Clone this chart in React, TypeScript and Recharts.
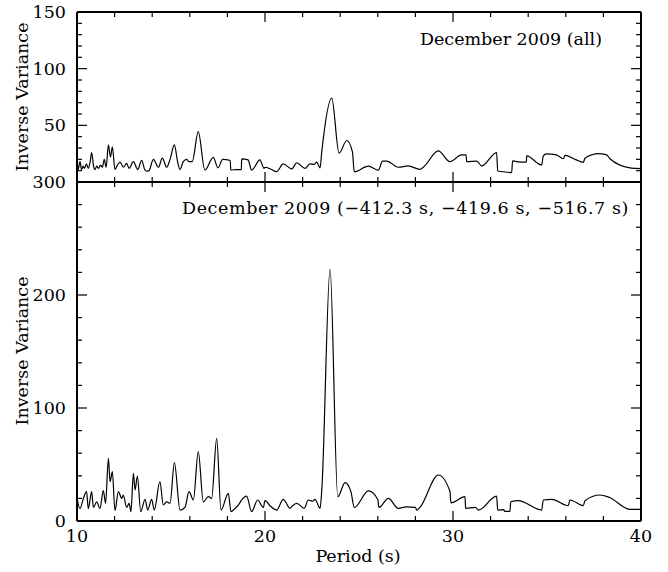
import React from 'react';
import { LineChart, Line, XAxis, YAxis } from 'recharts';

// ---- data ----
const topPeriod = [
  10.0, 10.06, 10.16, 10.24, 10.33, 10.4, 10.5, 10.6, 10.7, 10.78, 10.88, 10.96, 11.05, 11.15, 11.25, 11.35,
  11.45, 11.55, 11.67, 11.78, 11.88, 12.02, 12.15, 12.29, 12.47, 12.64, 12.77, 13.0, 13.23, 13.44, 13.6, 13.7,
  13.83, 14.06, 14.33, 14.54, 14.77, 14.95, 15.18, 15.35, 15.48, 15.65, 15.83, 15.95, 16.13, 16.45, 16.8, 17.25,
  17.5, 17.75, 18.15, 18.18, 18.5, 18.74, 18.76, 19.1, 19.29, 19.73, 19.95, 20.0, 20.3, 20.62, 20.97, 21.42,
  21.69, 22.13, 22.39, 22.6, 22.75, 22.93, 23.02, 23.55, 23.94, 24.35, 24.65, 24.75, 25.5, 26.0, 26.03, 26.25,
  26.47, 27.09, 27.62, 28.24, 28.42, 29.22, 29.84, 30.46, 30.69, 30.73, 31.26, 31.53, 32.32, 32.38, 32.94, 33.12,
  33.17, 33.65, 33.9, 33.92, 34.72, 34.8, 34.98, 35.5, 35.87, 35.96, 36.5, 36.93, 37.02, 37.4, 37.73, 38.17,
  38.35, 39.41, 39.7, 40.0,
];
const topValue = [
  21, 11, 18, 11, 14, 12, 16, 12, 18, 26, 14, 11, 14, 12, 15, 13,
  20, 13, 32.7, 22, 31, 11, 15, 17.5, 13, 16.5, 12, 18, 11, 19, 11, 9.5,
  10, 20, 13, 21, 13, 20, 32.7, 18, 11, 18, 20, 18, 18, 44.5, 10.6, 21.8,
  12.5, 20, 19, 10.6, 11, 11, 20.4, 19.5, 10.5, 19.5, 12, 13, 11.5, 9.1, 16, 11.5,
  17, 12, 16, 15.5, 17.5, 12.5, 26.8, 74, 25.4, 36.6, 26.5, 9.1, 14, 10.5, 10.5, 18.5,
  18.5, 13, 14.2, 11.2, 13, 27.4, 18, 23.9, 23.9, 18, 18.5, 14.2, 26, 9.7, 8.6, 8.3,
  18.6, 17.5, 17.5, 23, 15, 23, 24.9, 24, 20.5, 23.5, 20, 17.4, 21, 24, 25, 24,
  20.5, 12.4, 12, 11.8,
];

const botPeriod = [
  10.0, 10.16, 10.34, 10.51, 10.6, 10.78, 10.87, 11.05, 11.22, 11.4, 11.52, 11.67, 11.76, 11.88, 12.02, 12.2,
  12.38, 12.46, 12.64, 12.77, 12.87, 13.0, 13.09, 13.21, 13.39, 13.62, 13.76, 13.97, 14.11, 14.41, 14.59, 14.77,
  14.95, 15.18, 15.48, 15.74, 15.96, 16.19, 16.45, 16.72, 16.99, 17.16, 17.43, 17.66, 18.05, 18.19, 18.4, 18.58,
  18.76, 19.02, 19.29, 19.61, 19.91, 20.0, 20.3, 20.62, 20.97, 21.33, 21.45, 21.69, 22.09, 22.3, 22.55, 22.66,
  22.93, 23.02, 23.46, 23.87, 24.26, 24.57, 24.75, 25.5, 26.0, 26.06, 26.56, 27.09, 27.5, 28.0, 28.07, 28.24,
  29.22, 29.84, 29.89, 30.64, 30.67, 31.2, 31.35, 32.32, 32.38, 32.7, 32.75, 33.03, 33.07, 33.47, 34.72, 34.8,
  35.25, 36.13, 36.22, 36.93, 37.02, 37.82, 38.3, 39.41, 40.0,
];
const botValue = [
  20, 11, 20, 26, 11, 26, 12, 17, 11, 26.8, 15.6, 55.5, 34.8, 43.7, 9.1, 26,
  20, 23, 12, 15.6, 8.3, 42.2, 27.4, 39.8, 8.3, 19.2, 9.7, 19.2, 9.7, 34.8, 14.2, 17,
  15.6, 51.6, 9.7, 12, 26, 18.6, 61.4, 17, 21.5, 20, 73.2, 9.7, 24.5, 8.3, 11, 14,
  18.6, 22, 8.3, 18.6, 12, 18, 13, 9.7, 19.2, 11.2, 13.3, 15.6, 11.2, 18.6, 17.5, 19.2,
  11.2, 27.4, 223, 21.5, 33.9, 26, 12, 26.6, 19, 12, 20.1, 11.2, 12.5, 12, 9.7, 12,
  40.7, 26, 16, 21.5, 11.2, 12, 9.7, 22.1, 9.7, 10, 8.5, 8.5, 17, 18, 9.7, 18.6,
  19.2, 13.6, 18.6, 13.6, 18, 23, 21, 10.3, 10.3,
];

const xTicks = [10, 12, 14, 16, 18, 20, 22, 24, 26, 28, 30, 32, 34, 36, 38, 40];
const xMajor = [10, 20, 30, 40];
const topYTicks = [0, 10, 20, 30, 40, 50, 60, 70, 80, 90, 100, 110, 120, 130, 140, 150];
const topYMajor = [0, 50, 100, 150];
const topYLabels = [50, 100, 150];
const botYTicks = [0, 20, 40, 60, 80, 100, 120, 140, 160, 180, 200, 220, 240, 260, 280, 300];
const botYMajor = [0, 100, 200, 300];
const botYLabels = [0, 100, 200, 300];

const topTitle = 'December 2009 (all)';
const botTitle = 'December 2009 (\u2212412.3 s, \u2212419.6 s, \u2212516.7 s)';
const yTitle = 'Inverse Variance';
const xTitle = 'Period (s)';

const topData = topPeriod.map((p, i) => ({ p, v: topValue[i] }));
const botData = botPeriod.map((p, i) => ({ p, v: botValue[i] }));

const FONT = "'DejaVu Serif', serif";
const FS = 17.5;

type Side = 'bottom' | 'top' | 'left' | 'right';

function makeTick(side: Side, majors: number[], labels: number[]) {
  return (props: any) => {
    const { x, y, payload } = props;
    const v = payload.value;
    const len = majors.includes(v) ? 10 : 5;
    let x2 = x;
    let y2 = y;
    if (side === 'bottom') y2 = y - len;
    if (side === 'top') y2 = y + len;
    if (side === 'left') x2 = x + len;
    if (side === 'right') x2 = x - len;
    let label: any = null;
    if (labels.includes(v)) {
      if (side === 'bottom') {
        label = (
          <text x={x} y={y + 21} textAnchor="middle" fontFamily={FONT} fontSize={FS} fill="#000">
            {v}
          </text>
        );
      } else if (side === 'left') {
        label = (
          <text x={x - 11} y={y + 6} textAnchor="end" fontFamily={FONT} fontSize={FS} fill="#000">
            {v}
          </text>
        );
      }
    }
    return (
      <g>
        <line x1={x} y1={y} x2={x2} y2={y2} stroke="#000" strokeWidth={1.2} />
        {label}
      </g>
    );
  };
}

const axisLine = { stroke: '#000', strokeWidth: 2 };

function Panel(props: {
  data: any[];
  height: number;
  margin: any;
  yDomain: [number, number];
  yTicks: number[];
  yMajor: number[];
  yLabels: number[];
  xLabels: number[];
}) {
  const { data, height, margin, yDomain, yTicks, yMajor, yLabels, xLabels } = props;
  return (
    <LineChart width={668} height={height} data={data} margin={margin} style={{ position: 'absolute', left: 0, top: 0 }}>
      <XAxis
        xAxisId="b"
        dataKey="p"
        type="number"
        domain={[10, 40]}
        allowDataOverflow
        ticks={xTicks}
        interval={0}
        height={1}
        tickSize={0}
        tickMargin={0}
        tickLine={false}
        axisLine={axisLine}
        tick={makeTick('bottom', xMajor, xLabels)}
      />
      <XAxis
        xAxisId="t"
        orientation="top"
        dataKey="p"
        type="number"
        domain={[10, 40]}
        allowDataOverflow
        ticks={xTicks}
        interval={0}
        height={1}
        tickSize={0}
        tickMargin={0}
        tickLine={false}
        axisLine={axisLine}
        tick={makeTick('top', xMajor, [])}
      />
      <YAxis
        yAxisId="l"
        type="number"
        domain={yDomain}
        allowDataOverflow
        ticks={yTicks}
        interval={0}
        width={1}
        tickSize={0}
        tickMargin={0}
        tickLine={false}
        axisLine={axisLine}
        tick={makeTick('left', yMajor, yLabels)}
      />
      <YAxis
        yAxisId="r"
        orientation="right"
        type="number"
        domain={yDomain}
        allowDataOverflow
        ticks={yTicks}
        interval={0}
        width={1}
        tickSize={0}
        tickMargin={0}
        tickLine={false}
        axisLine={axisLine}
        tick={makeTick('right', yMajor, [])}
      />
      <Line
        xAxisId="b"
        yAxisId="l"
        dataKey="v"
        type="monotone"
        stroke="#000"
        strokeWidth={1.2}
        dot={false}
        activeDot={false}
        isAnimationActive={false}
      />
    </LineChart>
  );
}

export default function App() {
  return (
    <div style={{ position: 'absolute', left: 0, top: 0, width: 668, height: 572, background: '#fff', overflow: 'hidden' }}>
      <Panel
        data={topData}
        height={190}
        margin={{ top: 11, right: 26, bottom: 7, left: 76 }}
        yDomain={[0, 150]}
        yTicks={topYTicks}
        yMajor={topYMajor}
        yLabels={topYLabels}
        xLabels={[]}
      />
      <Panel
        data={botData}
        height={572}
        margin={{ top: 181, right: 26, bottom: 50, left: 76 }}
        yDomain={[0, 300]}
        yTicks={botYTicks}
        yMajor={botYMajor}
        yLabels={botYLabels}
        xLabels={xMajor}
      />
      <svg width={668} height={572} style={{ position: 'absolute', left: 0, top: 0, pointerEvents: 'none' }}>
        <text x={602} y={45} textAnchor="end" fontFamily={FONT} fontSize={FS} fill="#000">
          {topTitle}
        </text>
        <text x={182} y={214} textAnchor="start" fontFamily={FONT} fontSize={FS} fill="#000" letterSpacing={0.6}>
          {botTitle}
        </text>
        <text transform="translate(28,97) rotate(-90)" textAnchor="middle" fontFamily={FONT} fontSize={FS} fill="#000">
          {yTitle}
        </text>
        <text transform="translate(28,351) rotate(-90)" textAnchor="middle" fontFamily={FONT} fontSize={FS} fill="#000">
          {yTitle}
        </text>
        <text x={358} y={562} textAnchor="middle" fontFamily={FONT} fontSize={FS} fill="#000">
          {xTitle}
        </text>
      </svg>
    </div>
  );
}
